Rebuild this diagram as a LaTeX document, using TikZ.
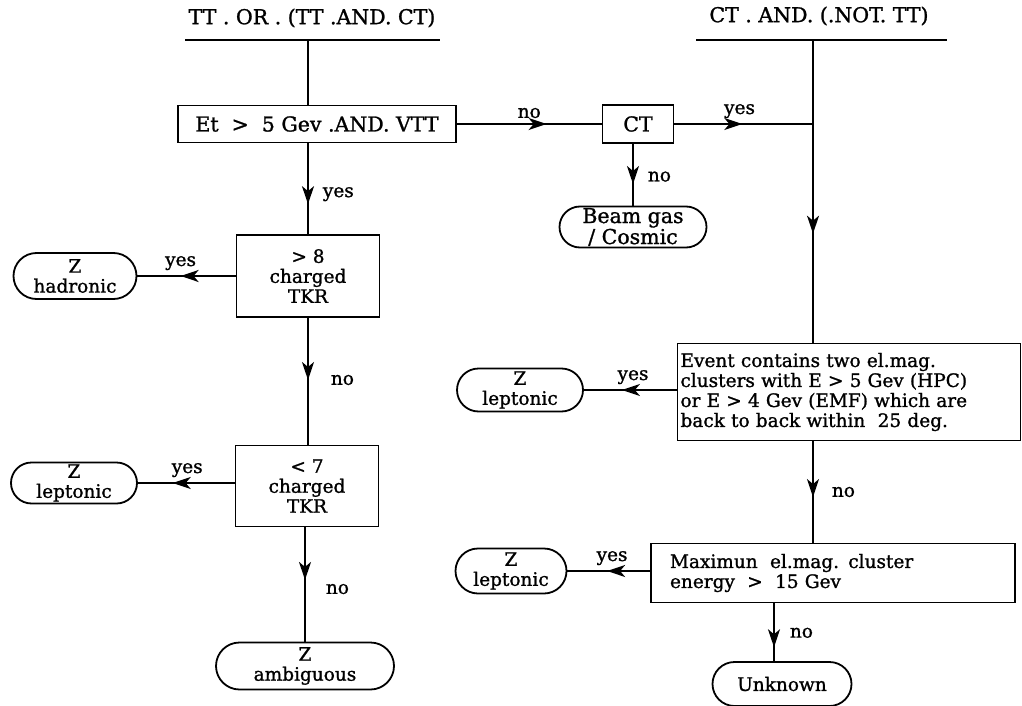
\documentclass[tikz,border=0pt]{standalone}
\usepackage{fontspec}
\setmainfont{DejaVu Serif}[FakeBold=1.2]
\usetikzlibrary{positioning, arrows.meta, shapes.misc, decorations.markings}

\begin{document}
\begin{tikzpicture}[x=1pt, y=-1pt,
    every node/.style={font=\fontsize{18.5}{20}\selectfont},
    big/.style={font=\fontsize{20.5}{21}\selectfont},
    test/.style={draw, line width=1.8pt, rectangle, align=center, inner sep=2pt},
    result/.style={draw, line width=1.8pt, rounded rectangle, align=center, inner sep=1pt},
    flow/.style={line width=1.8pt, postaction={decorate},
      decoration={markings, mark=at position #1 with {\arrow{Stealth[length=18pt,width=12pt,inset=5pt]}}}},
    lbl/.style={inner sep=2pt}]
  \useasboundingbox (0,0) rectangle (1022,706);
  \draw
    (312,18) node[big] (hdrL) {TT . OR . (TT .AND. CT)}
    (819,16) node[big] (hdrR) {CT . AND. (.NOT. TT)}
    (317,124) node[test, big, minimum width=278pt, minimum height=37pt] (et) {Et~ >~ 5 Gev .AND. VTT}
    (638,124) node[test, big, minimum width=71pt, minimum height=38pt] (ct) {CT}
    (633,227) node[result, big, minimum width=149pt, minimum height=41pt] (beam) {Beam gas\\/ Cosmic}
    (308,276) node[test, minimum width=143pt, minimum height=82pt] (gt8) {> 8\\charged\\TKR}
    (75,276) node[result, minimum width=125pt, minimum height=46pt] (zhad) {Z\\hadronic}
    (307,486) node[test, minimum width=143pt, minimum height=81pt] (lt7) {< 7\\charged\\TKR}
    (74,483) node[result, minimum width=128pt, minimum height=41pt] (zlepA) {Z\\leptonic}
    (305,666) node[result, minimum width=180pt, minimum height=47pt] (zamb) {Z\\ambiguous}
    (849,392) node[test, minimum width=343pt, minimum height=97pt, inner xsep=3pt,
      text width=337pt, align=left] (event) {Event contains two el.mag.\\clusters with E > 5 Gev (HPC)\\or E > 4 Gev (EMF) which are\\back to back within~ 25 deg.}
    (520,390) node[result, minimum width=128pt, minimum height=43pt] (zlepB) {Z\\leptonic}
    (833,573) node[test, minimum width=364pt, minimum height=59pt, inner xsep=19pt,
      text width=326pt, align=left] (maxe) {Maximun~ el.mag. cluster\\energy~ >~ 15 Gev}
    (511,571) node[result, minimum width=113pt, minimum height=45pt] (zlepC) {Z\\leptonic}
    (782,684) node[result, minimum width=141pt, minimum height=44pt] (unknown) {Unknown};
  % underlined headings
  \coordinate (topL) at (308,40);
  \coordinate (topR) at (813,40);
  \draw[line width=1.8pt] (185,40) -- (440,40);
  \draw[line width=1.8pt] (696,40) -- (947,40);
  \begin{scope}[-]
    \draw[line width=1.8pt] (topL) -- (topL |- et.north);
    \draw[flow=0.62] (et.east) -- (ct.west) node[lbl, pos=0.5, above=3pt] {no};
    \draw[flow=0.49] (ct.east) -- (ct.east -| topR) node[lbl, pos=0.47, above=3pt] {yes};
    \draw[flow=0.65] (ct.south -| beam) -- (beam.north) node[lbl, pos=0.53, right=12pt] {no};
    \draw[flow=0.64] (topR) -- (topR |- event.north);
    \draw[flow=0.67] (et.south -| gt8) -- (gt8.north) node[lbl, pos=0.56, right=12pt] {yes};
    \draw[flow=0.56] (gt8.west) -- (zhad.east) node[lbl, pos=0.56, above=3pt] {yes};
    \draw[flow=0.49] (gt8.south) -- (gt8.south |- lt7.north) node[lbl, pos=0.49, right=20pt] {no};
    \draw[flow=0.64] (zlepA.east -| lt7.west) -- (zlepA.east) node[lbl, pos=0.49, above=3pt] {yes};
    \draw[flow=0.46] (lt7.south -| zamb) -- (zamb.north) node[lbl, pos=0.54, right=18pt] {no};
    \draw[flow=0.59] (zlepB.east -| event.west) -- (zlepB.east) node[lbl, pos=0.47, above=3pt] {yes};
    \draw[flow=0.55] (event.south -| topR) -- (maxe.north -| topR) node[lbl, pos=0.5, right=16pt] {no};
    \draw[flow=0.52] (zlepC.east -| maxe.west) -- (zlepC.east) node[lbl, pos=0.46, above=3pt] {yes};
    \draw[flow=0.76] (maxe.south -| 774,0) -- (unknown.north -| 774,0) node[lbl, pos=0.51, right=13pt] {no};
  \end{scope}
\end{tikzpicture}
\end{document}
